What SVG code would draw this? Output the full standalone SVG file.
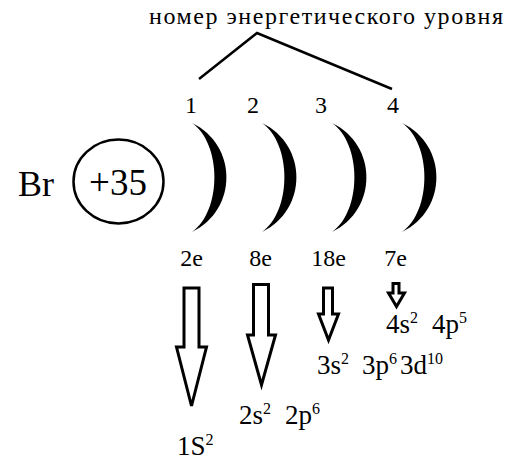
<svg xmlns="http://www.w3.org/2000/svg" width="510" height="464" viewBox="0 0 510 464">
<style>
.arrow{fill:#fff;stroke:#000;stroke-width:3;stroke-linejoin:miter}
.line{fill:none;stroke:#000;stroke-width:2.5}
.shell{fill:#000}
.ring{fill:none;stroke:#000;stroke-width:2.5}
</style>
<defs>
<path id="cres" d="M0,0 C46,22 46,87 0,109 C30,88 30,21 0,0 Z"/>
</defs>
<rect width="510" height="464" fill="#fff"/>
<g font-family="Liberation Serif, Times New Roman, serif" fill="#000">
<g id="title">
<text font-size="24" x="149" y="24" textLength="354" lengthAdjust="spacing">номер энергетического уровня</text>
</g>
<g id="connectors">
<polyline class="line" points="199,79 257,33 392,89"/>
<polygon class="arrow" points="184,288 199,288 199,347 206.5,347 191.5,406 176.5,347 184,347"/>
<polygon class="arrow" points="253.5,284.5 268.5,284.5 268.5,335 275.5,335 261.5,385 247.5,335 253.5,335"/>
<polygon class="arrow" points="323.5,288 332.5,288 332.5,314 338.5,314 328.5,340 318.5,314 323.5,314"/>
<polygon class="arrow" points="393,283.5 399,283.5 399,293 404.5,293 396.5,306.5 388.5,293 393,293"/>
</g>
<g id="nucleus">
<text font-size="36" x="18" y="196">Br</text>
<ellipse class="ring" cx="118.5" cy="181.5" rx="45" ry="42"/>
<text font-size="37" x="118" y="195" text-anchor="middle">+35</text>
</g>
<g id="shell1">
<text font-size="24" x="191" y="113" text-anchor="middle">1</text>
<use href="#cres" x="192" y="123" class="shell"/>
<text font-size="24" x="191.5" y="266" text-anchor="middle">2e</text>
</g>
<g id="shell2">
<text font-size="24" x="253" y="113" text-anchor="middle">2</text>
<use href="#cres" x="262" y="123" class="shell"/>
<text font-size="24" x="260.5" y="266" text-anchor="middle">8e</text>
</g>
<g id="shell3">
<text font-size="24" x="321" y="113" text-anchor="middle">3</text>
<use href="#cres" x="332" y="123" class="shell"/>
<text font-size="24" x="328.5" y="266" text-anchor="middle">18e</text>
</g>
<g id="shell4">
<text font-size="24" x="393" y="113" text-anchor="middle">4</text>
<use href="#cres" x="402" y="123" class="shell"/>
<text font-size="24" x="395.5" y="266" text-anchor="middle">7e</text>
</g>
<g id="config1">
<text font-size="27" x="177" y="455">1S<tspan font-size="16" dy="-10">2</tspan></text>
</g>
<g id="config2">
<text font-size="27" x="239" y="424">2s<tspan font-size="16" dy="-10">2</tspan><tspan x="285" dy="10">2p</tspan><tspan font-size="16" dy="-10">6</tspan></text>
</g>
<g id="config3">
<text font-size="27" x="317" y="374">3s<tspan font-size="16" dy="-10">2</tspan><tspan x="362" dy="10">3p</tspan><tspan font-size="16" dy="-10">6</tspan><tspan x="400" dy="10">3d</tspan><tspan font-size="16" dy="-10">10</tspan></text>
</g>
<g id="config4">
<text font-size="27" x="386" y="333">4s<tspan font-size="16" dy="-10">2</tspan><tspan x="432" dy="10">4p</tspan><tspan font-size="16" dy="-10">5</tspan></text>
</g>
</g>
</svg>
